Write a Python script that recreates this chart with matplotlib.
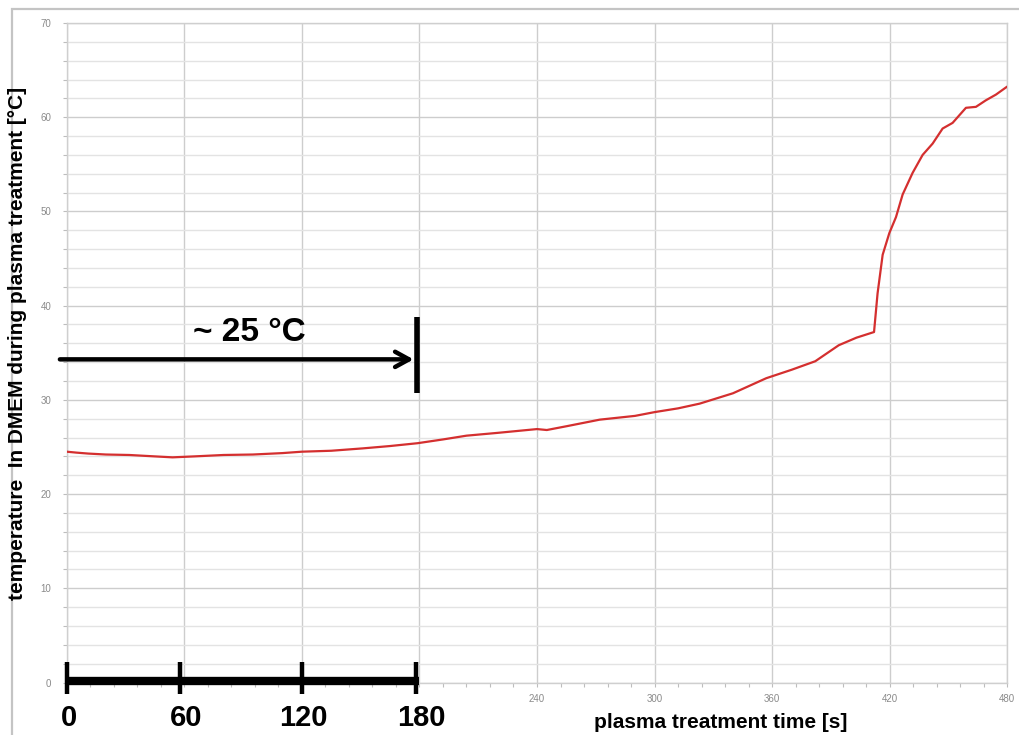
import matplotlib
matplotlib.use("Agg")
import matplotlib.pyplot as plt
from matplotlib.patches import Rectangle
from matplotlib.ticker import MultipleLocator
import matplotlib.transforms as mtransforms

plt.rcParams["font.family"] = ["Liberation Sans", "DejaVu Sans"]

# ─── Data ─────────────────────────────────────────────────────────────────
time_s = [0, 5, 11, 20, 32, 45, 54, 65, 80, 95, 110, 120, 135, 151, 165,
          179, 192, 204, 220, 240, 245, 255, 272, 290, 300, 312, 323, 340,
          357, 370, 382, 394, 403, 412, 413.8, 416.4, 419.8, 423.2, 426.6,
          431.7, 436.8, 441.9, 447, 452.1, 458.9, 464, 469.1, 474.2, 479.6]
temp_c = [24.5, 24.4, 24.3, 24.2, 24.15, 24.0, 23.9, 24.0, 24.15, 24.2,
          24.35, 24.5, 24.6, 24.85, 25.1, 25.4, 25.8, 26.2, 26.5, 26.9, 26.8,
          27.2, 27.9, 28.3, 28.7, 29.1, 29.6, 30.7, 32.3, 33.2, 34.1, 35.8,
          36.6, 37.2, 41.3, 45.4, 47.7, 49.4, 51.8, 54.1, 56.0, 57.2, 58.8,
          59.4, 61.0, 61.1, 61.8, 62.4, 63.2]

big_ticks = [0, 60, 120, 180]          # hand-drawn bold labels
bar_marks = [0, 58, 120, 178]          # hand-drawn marks on the thick bar
small_ticks = [240, 300, 360, 420, 480]
y_ticks = [0, 10, 20, 30, 40, 50, 60, 70]

annot_text = "~ 25 °C"
arrow_y = 34.3
arrow_x = (-3.5, 177)
bar_x = 178.5
bar_y = (30.7, 38.8)

# ─── Colors ───────────────────────────────────────────────────────────────
RED = "#d42f2f"
GRID_MINOR = "#e3e3e3"
GRID_MAJOR = "#cdcdcd"
TICK_GRAY = "#8a8a8a"

fig = plt.figure(figsize=(10.19, 7.35), dpi=100)
ax = fig.add_axes([0.0655, 0.0714, 0.923, 0.8973])

# outer chart border
fig.patches.append(Rectangle((12 / 1019, -0.2), 2.0, 1.2 - 9 / 735,
                             transform=fig.transFigure, fill=False,
                             edgecolor="#c4c4c4", lw=1.6, clip_on=False))

ax.set_xlim(0, 480)
ax.set_ylim(0, 70)

ax.yaxis.set_minor_locator(MultipleLocator(2))
ax.set_yticks(y_ticks)
ax.xaxis.set_minor_locator(MultipleLocator(12))
ax.set_xticks(big_ticks + small_ticks)
ax.set_xticklabels([""] * len(big_ticks) + [str(t) for t in small_ticks])

ax.grid(which="minor", axis="y", color=GRID_MINOR, lw=1.0)
ax.grid(which="major", axis="y", color=GRID_MAJOR, lw=1.0)
ax.grid(which="major", axis="x", color=GRID_MAJOR, lw=1.0)
ax.set_axisbelow(True)

for s in ax.spines.values():
    s.set_color("#cfcfcf")
    s.set_linewidth(1.0)

ax.tick_params(axis="both", which="both", colors="#bdbdbd", labelcolor=TICK_GRAY,
               labelsize=7, length=3, width=0.8)
ax.tick_params(axis="y", pad=8)
ax.tick_params(axis="x", pad=5)

# temperature curve
ax.plot(time_s, temp_c, color=RED, lw=1.6, zorder=3)

# hand-drawn style annotations
trans = mtransforms.blended_transform_factory(ax.transData, ax.transAxes)
ax.plot([0, 180], [0.15, 0.15], color="black", lw=6, solid_capstyle="butt",
        clip_on=False, zorder=4)
for m in bar_marks:
    ax.plot([m, m], [2.2, -1.2], color="black", lw=3.2, solid_capstyle="butt",
            clip_on=False, zorder=4)
for t in big_ticks:
    ax.text(t + 1, -0.032, str(t), transform=trans, ha="center", va="top",
            fontsize=21, fontweight="bold", color="black")

ax.annotate("", xy=(arrow_x[1], arrow_y), xytext=(arrow_x[0], arrow_y),
            arrowprops=dict(arrowstyle="->,head_length=1.0,head_width=0.55",
                            lw=3.2, color="black", shrinkA=0, shrinkB=0),
            annotation_clip=False, zorder=5)
ax.plot([bar_x, bar_x], bar_y, color="black", lw=4, solid_capstyle="butt",
        zorder=5)
ax.text(93, 37.2, annot_text, ha="center", va="center", fontsize=24,
        fontweight="bold", color="black", zorder=5)

# axis titles
fig.text(721 / 1019, 1 - 722 / 735, "plasma treatment time [s]", ha="center",
         va="center", fontsize=15, fontweight="bold")
fig.text(18 / 1019, 1 - 343 / 735,
         "temperature  In DMEM during plasma treatment [°C]",
         rotation=90, ha="center", va="center", fontsize=15,
         fontweight="bold")

fig.savefig("out.png", dpi=100)
